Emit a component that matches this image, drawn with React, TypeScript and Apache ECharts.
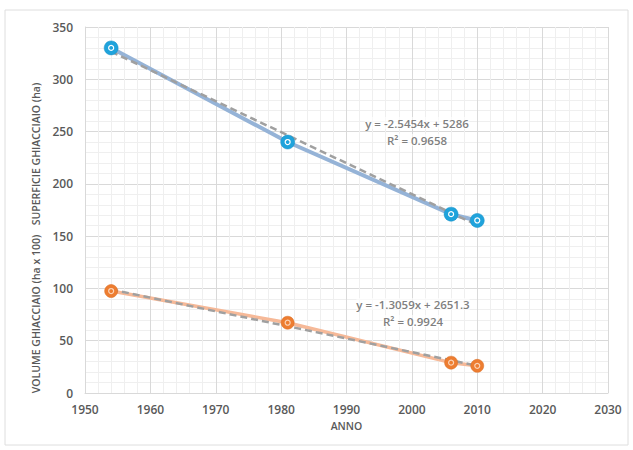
import React, { useEffect, useRef } from "react";
import * as echarts from "echarts";

const years = [1954, 1981, 2006, 2010];
const superficie = [330, 240, 171, 165];
const volume = [97.5, 67.2, 29, 26];
const trendYears = [1954, 2010];
const superficieTrend = [326.5, 160.5];
const volumeTrend = [99, 26];
const eqSuperficie = ["y = -2.5454x + 5286", "R² = 0.9658"];
const eqVolume = ["y = -1.3059x + 2651.3", "R² = 0.9924"];
const yNameTop = "SUPERFICIE GHIACCIAIO (ha)";
const yNameBottom = "VOLUME GHIACCIAIO (ha x 100)";
const xName = "ANNO";

const FONT = "'Open Sans', 'Liberation Sans', sans-serif";

export default function App() {
  const ref = useRef<HTMLDivElement>(null);
  useEffect(() => {
    if (!ref.current) return;
    const chart = echarts.init(ref.current, undefined, { renderer: "svg" });
    const pair = (xs: number[], ys: number[]) => xs.map((x, i) => [x, ys[i]]);
    const eqText = (lines: string[], x: number, y: number) =>
      lines.map((t, i) => ({
        type: "text",
        x,
        y: y + i * 17,
        z: 10,
        style: {
          text: t,
          fill: "#7f7f7f",
          font: `600 11.5px ${FONT}`,
          textAlign: "center",
          textVerticalAlign: "middle",
          backgroundColor: "rgba(255,255,255,0.6)",
        },
      }));
    chart.setOption({
      animation: false,
      backgroundColor: "#ffffff",
      grid: { left: 85, right: 25, top: 27, bottom: 57, containLabel: false },
      xAxis: {
        type: "value",
        min: 1950,
        max: 2030,
        interval: 10,
        name: xName,
        nameLocation: "middle",
        nameGap: 27,
        nameTextStyle: { color: "#595959", fontFamily: FONT, fontSize: 10.5, fontWeight: 600 },
        axisLine: { show: true, lineStyle: { color: "#d9d9d9" } },
        axisTick: { show: false },
        axisLabel: {
          color: "#595959",
          fontFamily: FONT,
          fontSize: 12,
          fontWeight: 600,
          margin: 10,
          formatter: (v: number) => String(v),
        },
        splitLine: { show: true, lineStyle: { color: "#d9d9d9", width: 1 } },
        minorTick: { show: false, splitNumber: 5 },
        minorSplitLine: { show: true, lineStyle: { color: "#efefef", width: 1 } },
      },
      yAxis: {
        type: "value",
        min: 0,
        max: 350,
        interval: 50,
        axisLine: { show: true, lineStyle: { color: "#d9d9d9" } },
        axisTick: { show: false },
        axisLabel: { color: "#595959", fontFamily: FONT, fontSize: 12, fontWeight: 600, margin: 12 },
        splitLine: { show: true, lineStyle: { color: "#d9d9d9", width: 1 } },
        minorTick: { show: false, splitNumber: 5 },
        minorSplitLine: { show: true, lineStyle: { color: "#efefef", width: 1 } },
      },
      series: [
        {
          type: "line",
          data: pair(years, superficie),
          symbol: "none",
          lineStyle: { color: "#95b3d7", width: 4 },
          z: 1,
        },
        {
          type: "line",
          data: pair(years, volume),
          symbol: "none",
          lineStyle: { color: "#f6b998", width: 3.5 },
          z: 1,
        },
        {
          type: "line",
          data: pair(trendYears, superficieTrend),
          symbol: "none",
          lineStyle: { color: "#a0a0a0", width: 2.5, type: [7, 4] },
          z: 2,
        },
        {
          type: "line",
          data: pair(trendYears, volumeTrend),
          symbol: "none",
          lineStyle: { color: "#a0a0a0", width: 2.5, type: [7, 4] },
          z: 2,
        },
        {
          type: "scatter",
          data: pair(years, superficie),
          symbol: "circle",
          symbolSize: 14,
          itemStyle: { color: "#1fa3dc", borderColor: "#178fc4", borderWidth: 0.5, opacity: 1 },
          z: 3,
        },
        {
          type: "scatter",
          data: pair(years, superficie),
          symbol: "circle",
          symbolSize: 5,
          itemStyle: { color: "#1fa3dc", borderColor: "#ffffff", borderWidth: 1.2, opacity: 1 },
          z: 4,
        },
        {
          type: "scatter",
          data: pair(years, volume),
          symbol: "circle",
          symbolSize: 13,
          itemStyle: { color: "#ed7d31", borderColor: "#d96a1e", borderWidth: 0.5, opacity: 1 },
          z: 3,
        },
        {
          type: "scatter",
          data: pair(years, volume),
          symbol: "circle",
          symbolSize: 5,
          itemStyle: { color: "#ed7d31", borderColor: "#fbd3b6", borderWidth: 1.2, opacity: 1 },
          z: 4,
        },
      ],
      graphic: [
        {
          type: "rect",
          shape: { x: 5, y: 10, width: 623, height: 435 },
          style: { fill: "none", stroke: "#dedede", lineWidth: 1 },
          silent: true,
        },
        {
          type: "text",
          x: 36,
          y: 154,
          rotation: Math.PI / 2,
          style: {
            text: yNameTop,
            fill: "#595959",
            font: `600 10.5px ${FONT}`,
            textAlign: "center",
            textVerticalAlign: "middle",
          },
        },
        {
          type: "text",
          x: 36,
          y: 314,
          rotation: Math.PI / 2,
          style: {
            text: yNameBottom,
            fill: "#595959",
            font: `600 10.5px ${FONT}`,
            textAlign: "center",
            textVerticalAlign: "middle",
          },
        },
        ...eqText(eqSuperficie, 417, 123),
        ...eqText(eqVolume, 413, 304),
      ],
    });
    return () => chart.dispose();
  }, []);
  return (
    <div
      ref={ref}
      style={{ position: "absolute", left: 0, top: 0, width: 633, height: 450, background: "#fff" }}
    />
  );
}
